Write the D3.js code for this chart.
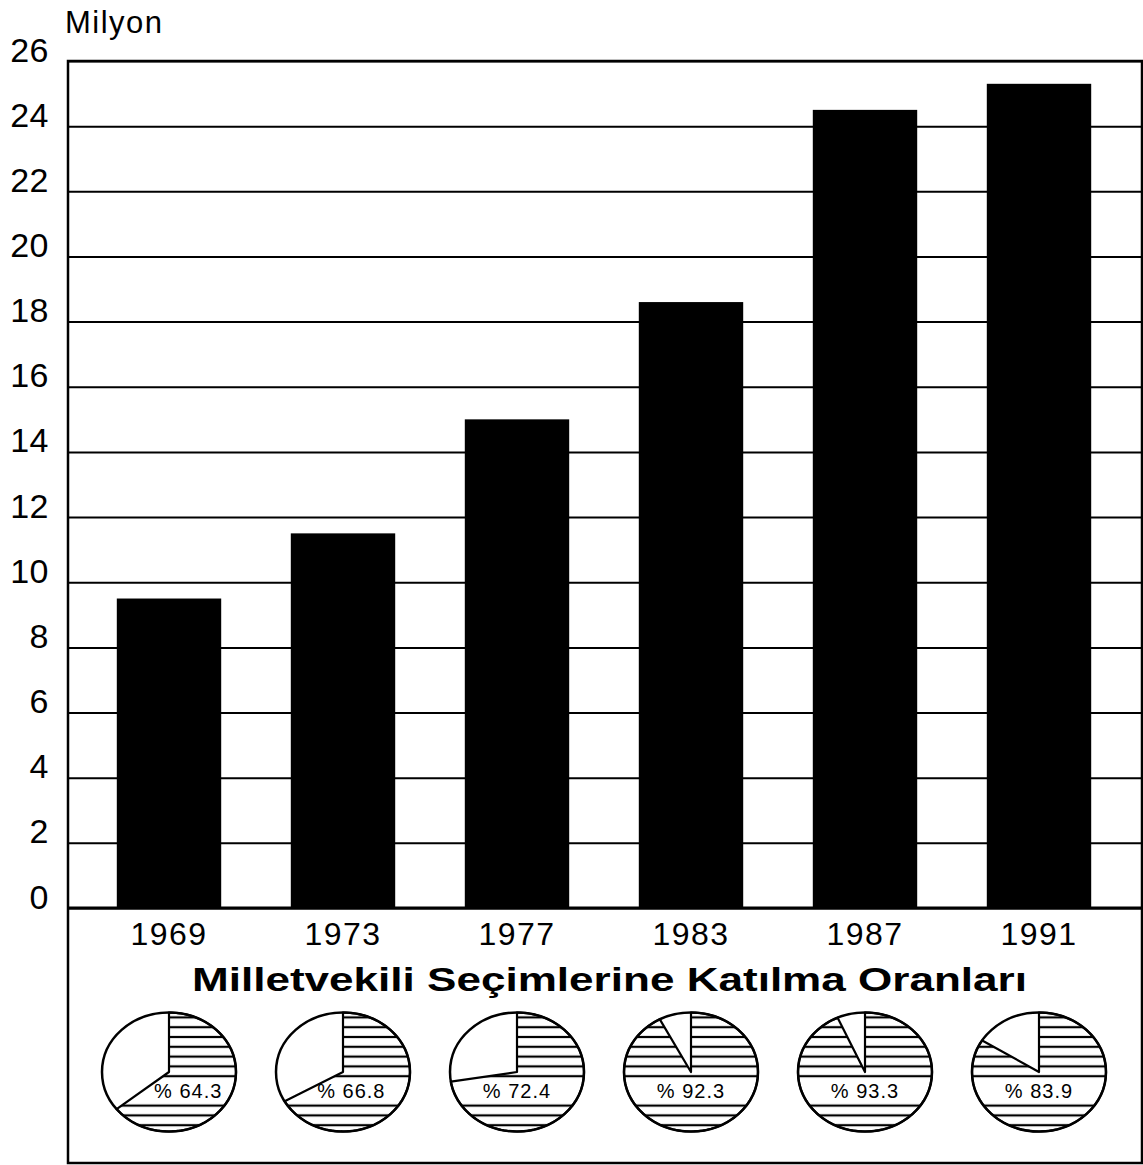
<!DOCTYPE html>
<html>
<head>
<meta charset="utf-8">
<script src="https://cdn.jsdelivr.net/npm/d3@7"></script>
<style>
  body { margin: 0; background: #fff; }
  svg { display: block; font-family: "Liberation Sans", Arial, Helvetica, sans-serif; }
</style>
</head>
<body>
<svg id="chart" width="1143" height="1165"></svg>
<script>
// Seçmen sayısı (milyon) ve katılma oranları
const years = ["1969", "1973", "1977", "1983", "1987", "1991"];
const voters = [9.5, 11.5, 15.0, 18.6, 24.5, 25.3];
const turnout = [64.3, 66.8, 72.4, 92.3, 93.3, 83.9];
const yTicks = [0, 2, 4, 6, 8, 10, 12, 14, 16, 18, 20, 22, 24, 26];
const unitLabel = "Milyon";
const pieTitle = "Milletvekili Seçimlerine Katılma Oranları";

const svg = d3.select("#chart");
const FONT = "'Liberation Sans', Arial, Helvetica, sans-serif";

const frame = { left: 68, right: 1142, top: 61, base: 908, bottom: 1163 };

const x = d3.scaleBand()
  .domain(years)
  .range([82, 1126])
  .paddingInner(0.4)
  .paddingOuter(0.2);

const y = d3.scaleLinear()
  .domain([0, 26])
  .range([frame.base, frame.top]);

// horizontal grid lines
const grid = svg.append("g")
  .attr("transform", `translate(${frame.left},0)`)
  .call(d3.axisLeft(y).tickValues(yTicks).tickSize(-(frame.right - frame.left)).tickFormat(""));
grid.select(".domain").remove();
grid.selectAll(".tick line").attr("stroke", "#000").attr("stroke-width", 2);

// y tick labels
const yAxis = svg.append("g")
  .attr("transform", `translate(${frame.left},0)`)
  .call(d3.axisLeft(y).tickValues(yTicks).tickSize(0).tickPadding(19));
yAxis.select(".domain").remove();
yAxis.attr("font-family", FONT).attr("font-size", 34);
yAxis.selectAll("text")
  .attr("dy", 0)
  .attr("fill", "#000")
  .style("letter-spacing", "0.5px");

// unit label
svg.append("text")
  .attr("x", 65)
  .attr("y", 33)
  .style("font-size", "31px")
  .style("letter-spacing", "1.5px")
  .text(unitLabel);

// bars
svg.append("g").selectAll("rect")
  .data(years)
  .join("rect")
  .attr("x", d => x(d))
  .attr("width", x.bandwidth())
  .attr("y", (d, i) => y(voters[i]))
  .attr("height", (d, i) => y(0) - y(voters[i]))
  .attr("fill", "#000");

// x labels
const xAxis = svg.append("g")
  .attr("transform", `translate(0,${frame.base})`)
  .call(d3.axisBottom(x).tickSize(0));
xAxis.select(".domain").remove();
xAxis.attr("font-family", FONT).attr("font-size", 32);
xAxis.selectAll("text")
  .attr("y", 37)
  .attr("dy", 0)
  .attr("fill", "#000")
  .style("letter-spacing", "1.5px");

// outer frame and baseline
svg.append("rect")
  .attr("x", frame.left).attr("y", frame.top)
  .attr("width", frame.right - frame.left)
  .attr("height", frame.bottom - frame.top)
  .attr("fill", "none").attr("stroke", "#000").attr("stroke-width", 2.5);
svg.append("line")
  .attr("x1", frame.left).attr("x2", frame.right)
  .attr("y1", frame.base).attr("y2", frame.base)
  .attr("stroke", "#000").attr("stroke-width", 3);

// title above the pies
svg.append("text")
  .attr("x", 192)
  .attr("y", 991)
  .attr("textLength", 835)
  .attr("lengthAdjust", "spacingAndGlyphs")
  .style("font-size", "34px")
  .style("font-weight", "bold")
  .text(pieTitle);

// turnout pies (elliptical)
const rx = 67, ry = 59.5, cy = 1072;
const band = { top: 1080, bottom: 1102, textBase: 1098 };

const defs = svg.append("defs");
const hatch = defs.append("pattern")
  .attr("id", "hatch")
  .attr("patternUnits", "userSpaceOnUse")
  .attr("x", 0).attr("y", 1022.3)
  .attr("width", 20).attr("height", 9.8);
hatch.append("line")
  .attr("x1", 0).attr("x2", 20)
  .attr("y1", 4.9).attr("y2", 4.9)
  .attr("stroke", "#000").attr("stroke-width", 2.2);

const pie = d3.pie().sort(null).value(d => d);

// wedge outline traced on the ellipse so the hatching stays horizontal
const slicePath = (s, cx) => {
  const n = 90, pts = [[cx, cy]];
  for (let k = 0; k <= n; k++) {
    const t = s.startAngle + (s.endAngle - s.startAngle) * k / n;
    pts.push([cx + rx * Math.sin(t), cy - ry * Math.cos(t)]);
  }
  return d3.line()(pts) + "Z";
};

turnout.forEach((pct, i) => {
  const cx = x(years[i]) + x.bandwidth() / 2;
  defs.append("clipPath").attr("id", `clip${i}`)
    .append("ellipse").attr("cx", cx).attr("cy", cy).attr("rx", rx).attr("ry", ry);

  const slices = pie([pct, 100 - pct]);
  const g = svg.append("g");

  // hatched participation slice
  g.append("path").attr("d", slicePath(slices[0], cx)).attr("fill", "url(#hatch)");

  // label band without hatching
  g.append("rect")
    .attr("x", cx - rx - 2).attr("y", band.top)
    .attr("width", 2 * rx + 4).attr("height", band.bottom - band.top)
    .attr("fill", "#fff")
    .attr("clip-path", `url(#clip${i})`);

  // slice edges and outline
  g.append("path").attr("d", slicePath(slices[0], cx))
    .attr("fill", "none").attr("stroke", "#000").attr("stroke-width", 2.2)
    .attr("stroke-linejoin", "round");
  g.append("ellipse")
    .attr("cx", cx).attr("cy", cy).attr("rx", rx).attr("ry", ry)
    .attr("fill", "none").attr("stroke", "#000").attr("stroke-width", 2.5);

  // percentage label, nudged right of the slice edge when it crosses the band
  const label = g.append("text")
    .attr("y", band.textBase)
    .style("font-size", "20px")
    .style("letter-spacing", "1px")
    .text(`% ${pct.toFixed(1)}`);
  const w = label.node().getComputedTextLength();
  let left = cx - w / 2;
  const th = slices[0].endAngle;
  const down = -Math.cos(th);
  if (down > 0) {
    const t = ((band.top + band.bottom) / 2 - cy) / (down * ry);
    if (t <= 1) {
      const cross = cx + t * Math.sin(th) * rx;
      left = Math.max(left, cross + 12);
    }
  }
  label.attr("x", left);
});
</script>
</body>
</html>
